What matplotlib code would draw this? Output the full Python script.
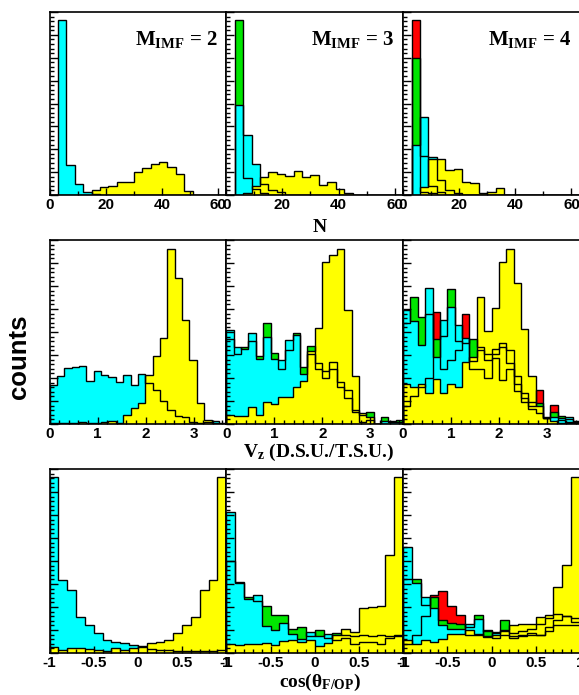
import numpy as np
import matplotlib.pyplot as plt
from matplotlib.ticker import MultipleLocator

plt.rcParams['font.family'] = 'Liberation Sans'
plt.rcParams['font.weight'] = 'bold'
plt.rcParams['axes.unicode_minus'] = False
plt.rcParams['mathtext.fontset'] = 'custom'
plt.rcParams['mathtext.rm'] = 'Liberation Serif:bold'
plt.rcParams['mathtext.it'] = 'Liberation Serif:bold'
plt.rcParams['mathtext.bf'] = 'Liberation Serif:bold'

CYAN = '#00ffff'
YELLOW = '#ffff00'
GREEN = '#00e600'
RED = '#ff0000'

# bin edges
n_edges = np.arange(0, 64, 3)
v_edges = np.linspace(0, 3.68, 25)
c_edges = np.linspace(-1, 1, 21)

# N distributions (percent of frame height)
n_m2_cyan = [0, 95.6, 16.4, 5.8, 1.8, 0.5, 0, 0, 0, 0, 0, 0, 0, 0, 0, 0, 0, 0, 0, 0, 0]
n_m2_yellow = [0, 0, 0, 0, 0, 2.7, 4.2, 4.9, 7.3, 7.3, 12.8, 14.6, 16.9, 18.2, 15.1, 11.3, 2.2, 0, 0, 0, 0]

n_m3_green = [0, 95.6, 9.1, 3.5, 1.0, 0, 0, 0, 0, 0, 0, 0, 0, 0, 0, 0, 0, 0, 0, 0, 0]
n_m3_cyan = [0, 49.2, 32.8, 16.8, 6.0, 3.0, 1.5, 0, 0, 0, 0, 0, 0, 0, 0, 0, 0, 0, 0, 0, 0]
n_m3_yellow = [0, 0, 1.3, 4.9, 10.0, 12.8, 11.5, 10.4, 13.3, 10.0, 10.9, 5.5, 7.3, 3.1, 1.3, 0, 0, 0, 0, 0, 0]

n_m4_red = [0, 95.6, 1.8, 1.0, 0, 0, 0, 0, 0, 0, 0, 0, 0, 0, 0, 0, 0, 0, 0, 0, 0]
n_m4_green = [0, 74.7, 21.3, 5.0, 1.5, 0, 0, 0, 0, 0, 0, 0, 0, 0, 0, 0, 0, 0, 0, 0, 0]
n_m4_cyan = [0, 27.3, 42.4, 20.6, 8.0, 3.0, 1.0, 0, 0, 0, 0, 0, 0, 0, 0, 0, 0, 0, 0, 0, 0]
n_m4_yellow = [0, 0, 4.6, 19.5, 19.5, 13.7, 14.0, 7.3, 6.7, 0.9, 1.8, 4.0, 0, 0, 0, 0, 0, 0, 0, 0, 0]

# Vz distributions
v_m2_cyan = [21.2, 26.1, 30.3, 30.8, 31.5, 23.4, 28.8, 26.6, 25.7, 23.0, 26.6, 21.2,
             27.0, 22.1, 18.5, 12.7, 7.6, 4.3, 3.6, 1.3, 0.7, 1.3, 1.8, 0.7]
v_m2_yellow = [0.4, 0.4, 0.4, 0.4, 0.9, 0.7, 0.7, 1.1, 1.8, 0.4, 4.9, 8.5,
               11.2, 26.6, 37.0, 46.6, 95.1, 79.5, 56.5, 34.8, 11.6, 2.2, 0.4, 0]

v_m3_green = [46, 38, 42.0, 45, 37.0, 55.1, 38.8, 30, 40, 49.6, 30.8, 42.4,
              30, 25, 30, 20, 13.9, 6.7, 5.0, 6.7, 0, 3.6, 1.0, 2.2]
v_m3_cyan = [51.1, 41.7, 40.6, 49.6, 35.1, 47.5, 35.1, 34.8, 45.7, 48.4, 27.2, 38.0,
             33.0, 29.0, 33.9, 23.0, 18.5, 7.6, 1.0, 2.0, 0, 1.5, 1.6, 1.0]
v_m3_yellow = [4.9, 4.3, 4.3, 9.1, 4.9, 12.1, 10.9, 14.9, 14.9, 19.9, 23.6, 39.7,
               52.0, 87.9, 91.8, 95.1, 62.0, 26.3, 6.0, 4.0, 0, 0, 0, 0]

v_m4_red = [10, 15, 20, 25, 61.1, 30, 35, 40, 59.6, 30, 30, 25,
            36, 24, 30, 18, 14, 10, 18.5, 3.0, 10.3, 2.0, 1.0, 0.5]
v_m4_green = [55, 68.8, 58.0, 60, 46.0, 48, 73.2, 45, 44, 46.0, 42, 35,
              38, 44, 40, 26, 17, 12, 11.2, 4.0, 6.7, 4.5, 2.5, 1.0]
v_m4_cyan = [62.0, 56.0, 43.0, 74.1, 36.6, 56.5, 63.8, 53.8, 46.6, 34, 40, 38,
             41, 42, 33, 22, 12, 8, 6, 3.1, 4.0, 3.1, 4.0, 1.5]
v_m4_yellow = [21.7, 20.3, 21.7, 16.7, 24.3, 17.0, 21.7, 20.3, 33.9, 36.6, 69.2, 50.7,
               62.9, 87.9, 95.1, 76.4, 51.4, 26.3, 10.0, 3.5, 1.5, 0.8, 0.5, 0.3]

# cos(theta) distributions
c_m2_cyan = [95.6, 39.6, 34.2, 19.6, 15.1, 10.9, 6.9, 6.0, 5.5, 4.2,
             3.3, 2.4, 1.8, 1.5, 1.3, 1.0, 1.0, 1.0, 1.2, 1.5]
c_m2_yellow = [3.3, 1.5, 2.9, 2.7, 2.4, 1.5, 1.1, 2.7, 1.8, 2.9,
               3.6, 5.5, 6.0, 6.9, 10.9, 15.1, 19.6, 34.2, 39.6, 95.6]

c_m3_green = [50, 38.5, 30.5, 28, 25.5, 20.5, 20.5, 13.3, 14.2, 9,
              12.4, 8, 11, 10, 9, 10, 9, 10, 9, 10]
c_m3_cyan = [76.5, 37.8, 29.1, 31.5, 14.7, 12.4, 16.5, 10.5, 7.5, 11.5,
             9.1, 10.5, 7, 8, 5, 6, 6, 5, 8, 9]
c_m3_yellow = [5.1, 4.5, 5.1, 5.1, 5.6, 4.2, 6.4, 6.9, 6.0, 6.9,
               3.6, 5.5, 9.6, 13.3, 11.5, 24.2, 25.1, 25.5, 53.3, 95.6]

c_m4_red = [5, 10, 20, 31.3, 33.8, 25.5, 20.5, 10, 10, 12.7,
            8, 10, 8, 9, 10, 10, 12, 15, 15, 15]
c_m4_green = [40, 40.2, 26, 30.5, 17.8, 16.4, 16.0, 14, 20.5, 12.0,
              11.5, 17.8, 11, 12, 13, 16, 19, 21, 20, 19]
c_m4_cyan = [57.5, 38.2, 30.5, 24.2, 15.1, 13, 13.3, 16, 18.7, 9.3,
             11, 12, 9, 10, 11, 10, 14, 18, 20, 17]
c_m4_yellow = [6.9, 5.1, 6.9, 6.0, 7.8, 10.5, 10.5, 12.7, 10.5, 8.7,
               9.6, 12.4, 15.1, 15.6, 15.6, 19.6, 20.5, 36.0, 47.8, 95.6]

panels = [
    [(n_edges, [(CYAN, n_m2_cyan), (YELLOW, n_m2_yellow)]),
     (n_edges, [(GREEN, n_m3_green), (CYAN, n_m3_cyan), (YELLOW, n_m3_yellow)]),
     (n_edges, [(RED, n_m4_red), (GREEN, n_m4_green), (CYAN, n_m4_cyan), (YELLOW, n_m4_yellow)])],
    [(v_edges, [(CYAN, v_m2_cyan), (YELLOW, v_m2_yellow)]),
     (v_edges, [(GREEN, v_m3_green), (CYAN, v_m3_cyan), (YELLOW, v_m3_yellow)]),
     (v_edges, [(RED, v_m4_red), (GREEN, v_m4_green), (CYAN, v_m4_cyan), (YELLOW, v_m4_yellow)])],
    [(c_edges, [(CYAN, c_m2_cyan), (YELLOW, c_m2_yellow)]),
     (c_edges, [(GREEN, c_m3_green), (CYAN, c_m3_cyan), (YELLOW, c_m3_yellow)]),
     (c_edges, [(RED, c_m4_red), (GREEN, c_m4_green), (CYAN, c_m4_cyan), (YELLOW, c_m4_yellow)])],
]

row_lims = [(0, 63), (0, 3.68), (-1, 1)]
row_major = [20, 1, 0.5]
row_minor = [10, 0.2, 0.1]
mult_labels = ['2', '3', '4']

W, H = 579, 695
fig = plt.figure(figsize=(W / 100, H / 100), dpi=100)

row_px = [(12, 195), (240, 424), (469, 653)]
col_px = [49.5, 226.3, 403.1]
col_w = 176.8

for r in range(3):
    top, bot = row_px[r]
    for c in range(3):
        ax = fig.add_axes([col_px[c] / W, 1 - bot / H, col_w / W, (bot - top) / H])
        edges, hists = panels[r][c]
        for color, vals in hists:
            ax.stairs(vals, edges, fill=True, color=color, lw=0)
        for color, vals in hists:
            ax.stairs(vals, edges, color='black', lw=1.0)
        ax.set_xlim(*row_lims[r])
        ax.set_ylim(0, 100)
        ax.xaxis.set_major_locator(MultipleLocator(row_major[r]))
        ax.xaxis.set_minor_locator(MultipleLocator(row_minor[r]))
        ax.xaxis.set_major_formatter(plt.FuncFormatter(lambda v, p: f'{v:g}'))
        ax.yaxis.set_major_locator(MultipleLocator(12.5))
        ax.yaxis.set_minor_locator(MultipleLocator(2.5))
        ax.tick_params(which='both', direction='in', top=False, right=False,
                       labelleft=False, width=1)
        ax.tick_params(axis='x', which='major', length=5, pad=2.5, labelsize=11)
        ax.tick_params(axis='x', which='minor', length=3)
        ax.tick_params(axis='y', which='major', length=6)
        ax.tick_params(axis='y', which='minor', length=3)
        for s in ax.spines.values():
            s.set_linewidth(1.2)
        if r == 0:
            ax.text(0.95, 0.82, r'$\mathrm{M}_{\mathrm{IMF}}$ = ' + mult_labels[c],
                    transform=ax.transAxes, ha='right', va='baseline',
                    family='Liberation Serif', weight='bold', fontsize=15)

serif = {'family': 'Liberation Serif', 'weight': 'bold', 'size': 14}
fig.text(320 / W, 1 - 232.5 / H, 'N', ha='center', va='baseline', **serif)
fig.text(319 / W, 1 - 457 / H, r'V$_{\mathrm{z}}$ (D.S.U./T.S.U.)', ha='center', va='baseline', **serif)
fig.text(320 / W, 1 - 687 / H, r'cos(θ$_{\mathrm{F/OP}}$)', ha='center', va='baseline', **serif)
fig.text(19 / W, 1 - 357 / H, 'counts', rotation=90, ha='center', va='center',
         family='Liberation Sans', weight='bold', fontsize=18.5)

fig.savefig('out.png', dpi=100)
